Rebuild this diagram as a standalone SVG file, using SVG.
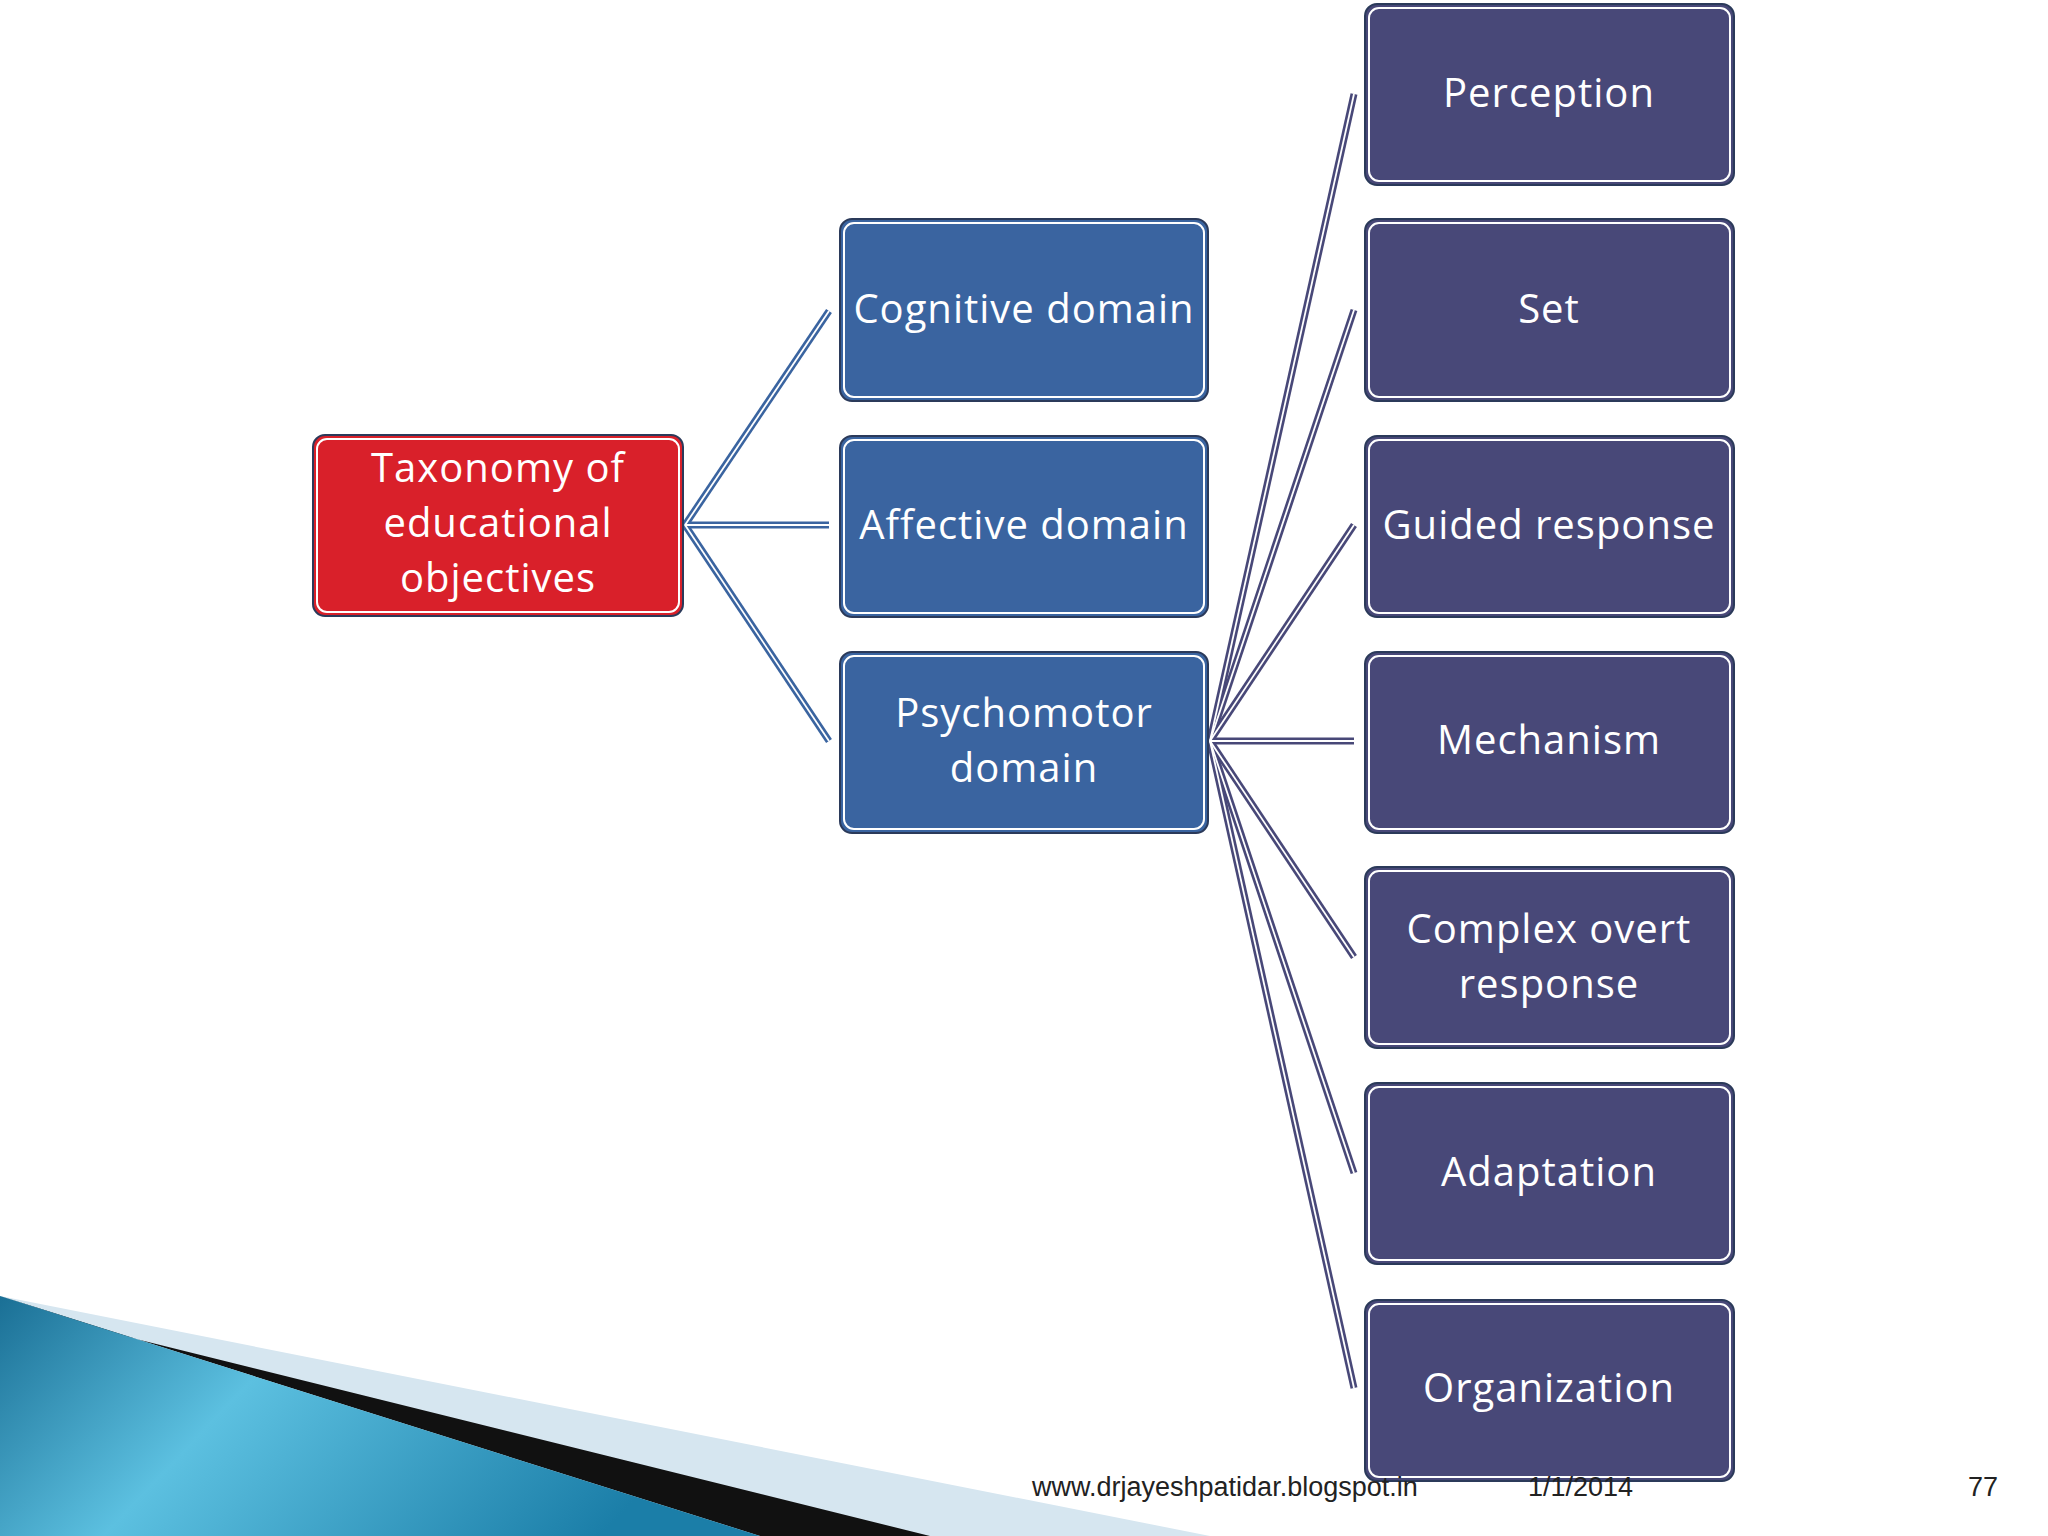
<svg xmlns="http://www.w3.org/2000/svg" width="2048" height="1536" viewBox="0 0 2048 1536">
<defs>
<linearGradient id="teal" x1="0" y1="0" x2="1" y2="0.3">
<stop offset="0" stop-color="#1a6f95"/><stop offset="0.4" stop-color="#5cc0e0"/><stop offset="1" stop-color="#1b7ea8"/>
</linearGradient>
</defs>
<style>
.box{stroke:#2b3a5a;stroke-width:2}
.inner{fill:none;stroke:#fff;stroke-width:2}
.root{fill:#d9202a}
.dom{fill:#3a64a0}
.sub{fill:#484878}
.t{font-family:"Open Sans","DejaVu Sans",sans-serif;font-size:40px;fill:#fff;text-anchor:middle;letter-spacing:1px}
.ca{stroke:#3a64a0;stroke-width:7;fill:none}
.cb{stroke:#484878;stroke-width:7;fill:none}
.cw{stroke:#fff;stroke-width:1.8;fill:none}
.f{font-family:"Liberation Sans",Arial,sans-serif;font-size:27px;fill:#222}
</style>
<rect width="2048" height="1536" fill="#fff"/>
<g id="decor">
<polygon points="0,1296 1210,1536 0,1536" fill="#d6e6f0"/>
<polygon points="0,1296 120,1335 930,1536 760,1536" fill="#111"/>
<polygon points="0,1296 760,1536 0,1536" fill="url(#teal)"/>
</g>
<g id="connectors">
<g class="ca">
<path d="M685,525 L829,311"/><path d="M685,525 L829,525"/><path d="M685,525 L829,741"/>
</g>
<g class="cw">
<path d="M685,525 L829,311"/><path d="M685,525 L829,525"/><path d="M685,525 L829,741"/>
</g>
<g class="cb">
<path d="M1210,741 L1354,94"/><path d="M1210,741 L1354,310"/><path d="M1210,741 L1354,525"/><path d="M1210,741 L1354,741"/><path d="M1210,741 L1354,957"/><path d="M1210,741 L1354,1173"/><path d="M1210,741 L1354,1388"/>
</g>
<g class="cw">
<path d="M1210,741 L1354,94"/><path d="M1210,741 L1354,310"/><path d="M1210,741 L1354,525"/><path d="M1210,741 L1354,741"/><path d="M1210,741 L1354,957"/><path d="M1210,741 L1354,1173"/><path d="M1210,741 L1354,1388"/>
</g>
</g>
<g id="root"><rect class="box root" x="313" y="435" width="370" height="181" rx="12"/><rect class="inner" x="317" y="439" width="362" height="173" rx="10"/>
<text class="t" x="498" y="482">Taxonomy of</text><text class="t" x="498" y="537">educational</text><text class="t" x="498" y="592">objectives</text></g>
<g id="cognitive"><rect class="box dom" x="840" y="219" width="368" height="182" rx="12"/><rect class="inner" x="844" y="223" width="360" height="174" rx="10"/><text class="t" x="1024" y="323">Cognitive domain</text></g>
<g id="affective"><rect class="box dom" x="840" y="436" width="368" height="181" rx="12"/><rect class="inner" x="844" y="440" width="360" height="173" rx="10"/><text class="t" x="1024" y="539">Affective domain</text></g>
<g id="psychomotor"><rect class="box dom" x="840" y="652" width="368" height="181" rx="12"/><rect class="inner" x="844" y="656" width="360" height="173" rx="10"/><text class="t" x="1024" y="727">Psychomotor</text><text class="t" x="1024" y="782">domain</text></g>
<g id="perception"><rect class="box sub" x="1365" y="4" width="369" height="181" rx="12"/><rect class="inner" x="1369" y="8" width="361" height="173" rx="10"/><text class="t" x="1549" y="107">Perception</text></g>
<g id="set"><rect class="box sub" x="1365" y="219" width="369" height="182" rx="12"/><rect class="inner" x="1369" y="223" width="361" height="174" rx="10"/><text class="t" x="1549" y="323">Set</text></g>
<g id="guided"><rect class="box sub" x="1365" y="436" width="369" height="181" rx="12"/><rect class="inner" x="1369" y="440" width="361" height="173" rx="10"/><text class="t" x="1549" y="539">Guided response</text></g>
<g id="mechanism"><rect class="box sub" x="1365" y="652" width="369" height="181" rx="12"/><rect class="inner" x="1369" y="656" width="361" height="173" rx="10"/><text class="t" x="1549" y="754">Mechanism</text></g>
<g id="complex"><rect class="box sub" x="1365" y="867" width="369" height="181" rx="12"/><rect class="inner" x="1369" y="871" width="361" height="173" rx="10"/><text class="t" x="1549" y="943">Complex overt</text><text class="t" x="1549" y="998">response</text></g>
<g id="adaptation"><rect class="box sub" x="1365" y="1083" width="369" height="181" rx="12"/><rect class="inner" x="1369" y="1087" width="361" height="173" rx="10"/><text class="t" x="1549" y="1186">Adaptation</text></g>
<g id="organization"><rect class="box sub" x="1365" y="1300" width="369" height="181" rx="12"/><rect class="inner" x="1369" y="1304" width="361" height="173" rx="10"/><text class="t" x="1549" y="1402">Organization</text></g>
<g id="footer">
<text class="f" x="1032" y="1496">www.drjayeshpatidar.blogspot.in</text>
<text class="f" x="1528" y="1496">1/1/2014</text>
<text class="f" x="1998" y="1496" text-anchor="end">77</text>
</g>
</svg>
